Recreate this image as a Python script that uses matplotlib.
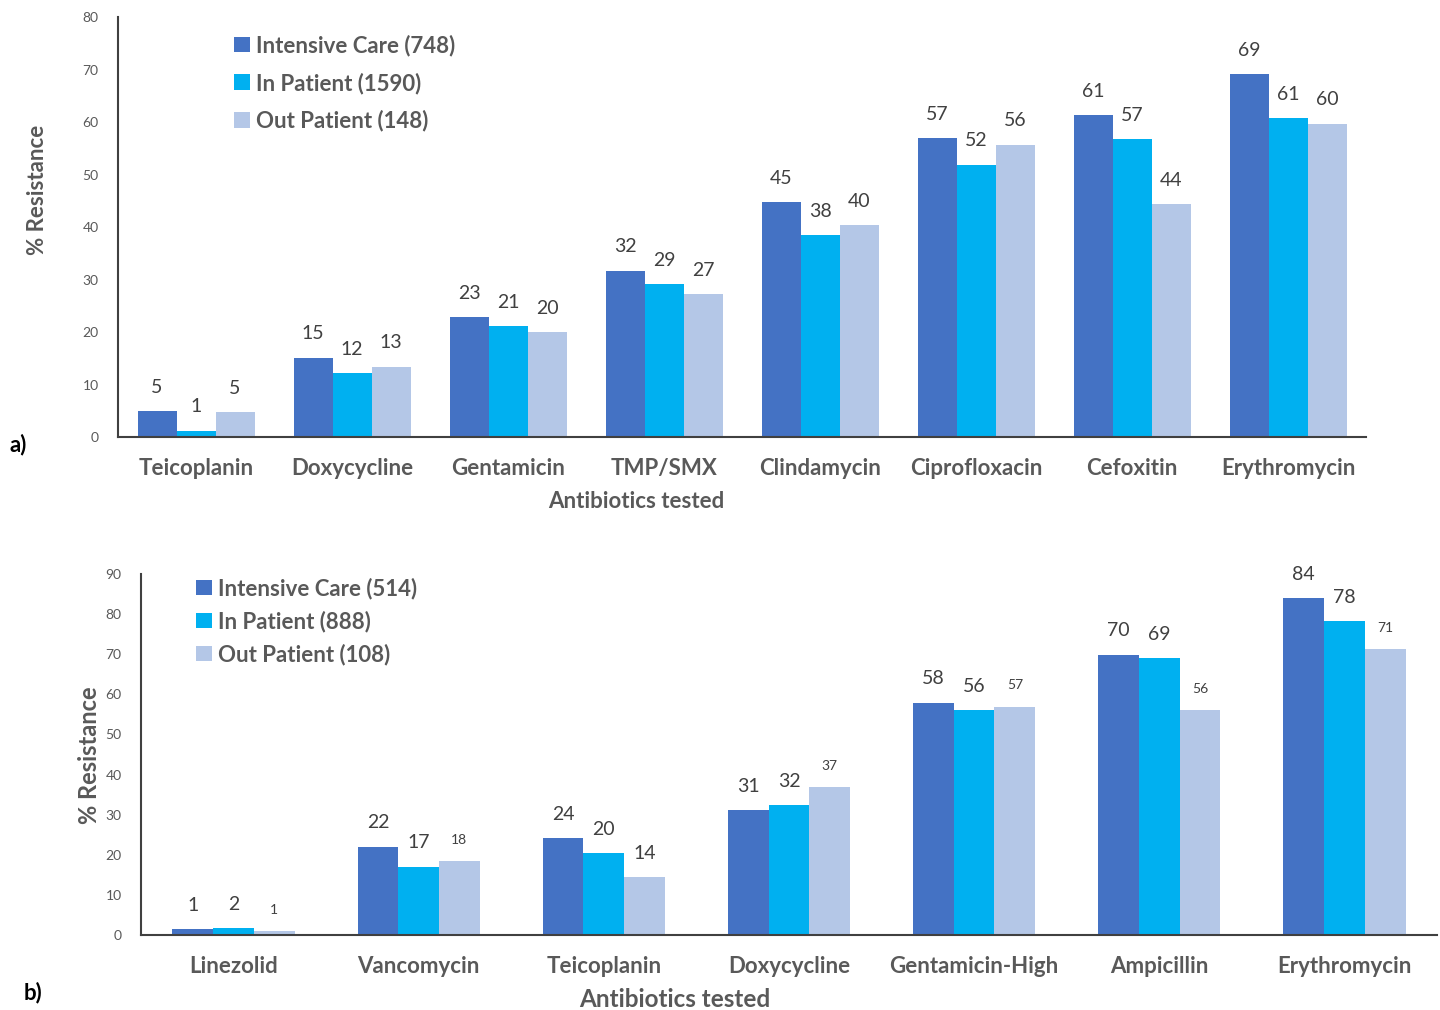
import numpy as np
import matplotlib.pyplot as plt

plt.rcParams['font.family'] = ['Lato', 'DejaVu Sans']

# ---- panel a) data ----
drugs_a = ["Teicoplanin", "Doxycycline", "Gentamicin", "TMP/SMX",
           "Clindamycin", "Ciprofloxacin", "Cefoxitin", "Erythromycin"]
icu_a = [5.0, 15.1, 22.9, 31.7, 44.8, 57.0, 61.3, 69.1]
inp_a = [1.2, 12.2, 21.1, 29.1, 38.4, 51.9, 56.8, 60.8]
out_a = [4.8, 13.4, 20.0, 27.2, 40.4, 55.7, 44.4, 59.7]
legend_a = ["Intensive Care (748)", "In Patient (1590)", "Out Patient (148)"]

# ---- panel b) data ----
drugs_b = ["Linezolid", "Vancomycin", "Teicoplanin", "Doxycycline",
           "Gentamicin-High", "Ampicillin", "Erythromycin"]
icu_b = [1.4, 22.0, 24.2, 31.2, 57.9, 69.9, 84.0]
inp_b = [1.7, 17.0, 20.4, 32.3, 56.0, 69.1, 78.2]
out_b = [1.0, 18.4, 14.4, 36.9, 56.9, 56.1, 71.2]
legend_b = ["Intensive Care (514)", "In Patient (888)", "Out Patient (108)"]

colors = ["#4472C4", "#00B0F0", "#B4C7E7"]
grey = "#595959"

fig = plt.figure(figsize=(14.4, 10.1), dpi=100)
ax1 = fig.add_axes([0.082, 0.5673, 0.8667, 0.4158])
ax2 = fig.add_axes([0.0979, 0.0743, 0.9, 0.3574])


def draw(ax, drugs, series, labels, width, ymax, small, leg_anchor, leg_space):
    x = np.arange(len(drugs))
    for k, vals in enumerate(series):
        pos = x + (k - 1) * width
        bars = ax.bar(pos, vals, width, color=colors[k], label=labels[k], linewidth=0)
        for i, b in enumerate(bars):
            fs = 10 if (k, i) in small else 14
            ax.annotate(f"{vals[i]:.0f}", (b.get_x() + b.get_width() / 2, b.get_height()),
                        xytext=(0, 11), textcoords="offset points",
                        ha="center", va="bottom", fontsize=fs, color="#404040")
    ax.set_xlim(-0.5, len(drugs) - 0.5)
    ax.set_ylim(0, ymax)
    ax.set_yticks(np.arange(0, ymax + 1, 10))
    ax.set_xticks(x)
    ax.set_xticklabels(drugs, fontsize=16, fontweight="bold", color=grey)
    ax.tick_params(axis="x", length=0, pad=15)
    ax.tick_params(axis="y", length=0, labelsize=10, labelcolor=grey, pad=14)
    for s in ["top", "right"]:
        ax.spines[s].set_visible(False)
    for s in ["left", "bottom"]:
        ax.spines[s].set_color("#404040")
        ax.spines[s].set_linewidth(1.5)
    leg = ax.legend(loc="upper left", bbox_to_anchor=leg_anchor, frameon=False,
                    handlelength=0.7, handleheight=0.7, handletextpad=0.3,
                    labelspacing=leg_space, prop={"weight": "bold", "size": 16})
    for t in leg.get_texts():
        t.set_color(grey)


draw(ax1, drugs_a, [icu_a, inp_a, out_a], legend_a, 0.25, 80, set(),
     (0.077, 1.006), 0.72)
draw(ax2, drugs_b, [icu_b, inp_b, out_b], legend_b, 0.22, 90,
     {(2, 0), (2, 1), (2, 3), (2, 4), (2, 5), (2, 6)},
     (0.027, 1.045), 0.5)

ax1.set_xlabel("Antibiotics tested", fontsize=16, fontweight="bold", color=grey)
ax1.xaxis.set_label_coords(0.415, -0.129)
ax2.set_xlabel("Antibiotics tested", fontsize=17.5, fontweight="bold", color=grey)
ax2.xaxis.set_label_coords(0.412, -0.147)
ax1.set_ylabel("% Resistance", fontsize=16, fontweight="bold", color=grey)
ax1.yaxis.set_label_coords(-0.056, 0.588)
ax2.set_ylabel("% Resistance", fontsize=17, fontweight="bold", color=grey)
ax2.yaxis.set_label_coords(-0.031, 0.499)

fig.text(10 / 1440, 1 - 445 / 1010, "a)", fontsize=16, fontweight="bold", va="center")
fig.text(24 / 1440, 1 - 993 / 1010, "b)", fontsize=16, fontweight="bold", va="center")

fig.savefig("out.png", dpi=100)
